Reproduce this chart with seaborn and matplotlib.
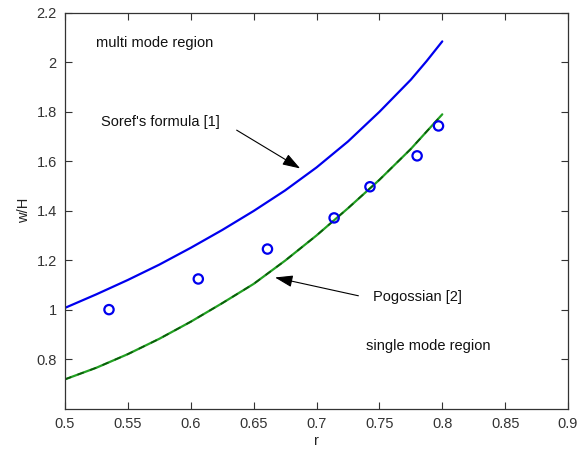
import matplotlib
matplotlib.use("Agg")
import matplotlib.pyplot as plt
import seaborn as sns
import numpy as np
import pandas as pd
from matplotlib.ticker import FuncFormatter

# data
r_curve = [0.5, 0.525, 0.55, 0.575, 0.6, 0.625, 0.65, 0.675, 0.7, 0.725, 0.75, 0.775, 0.7875, 0.8]
soref = [1.007, 1.062, 1.120, 1.182, 1.250, 1.322, 1.399, 1.482, 1.575, 1.680, 1.800, 1.930, 2.005, 2.085]
pogossian = [0.718, 0.765, 0.820, 0.882, 0.951, 1.026, 1.104, 1.198, 1.300, 1.410, 1.525, 1.650, 1.720, 1.790]
r_meas = [0.535, 0.606, 0.661, 0.714, 0.7425, 0.780, 0.797]
w_meas = [1.0, 1.124, 1.245, 1.371, 1.497, 1.622, 1.743]

x_ticks = [0.5, 0.55, 0.6, 0.65, 0.7, 0.75, 0.8, 0.85, 0.9]
y_ticks = [0.8, 1.0, 1.2, 1.4, 1.6, 1.8, 2.0, 2.2]

sns.set_theme(style="ticks")
plt.rcParams['font.family'] = ['Liberation Sans', 'DejaVu Sans']
plt.rcParams['xtick.direction'] = 'in'
plt.rcParams['ytick.direction'] = 'in'

fig = plt.figure(figsize=(5.87, 4.5), dpi=100)
ax = fig.add_axes([0.1107, 0.0922, 0.857, 0.879])

df = pd.DataFrame({"r": r_curve, "soref": soref, "pog": pogossian})
dm = pd.DataFrame({"r": r_meas, "w": w_meas})

sns.lineplot(data=df, x="r", y="soref", ax=ax, color="#0000ee", linewidth=1.6)
sns.lineplot(data=df, x="r", y="pog", ax=ax, color="#22a022", linewidth=1.6)
sns.lineplot(data=df, x="r", y="pog", ax=ax, color="#0a5a0a", linewidth=1.2,
             linestyle=(0, (4, 4)))
sns.scatterplot(data=dm, x="r", y="w", ax=ax, marker="o", s=45,
                facecolor="none", edgecolor="#0000ee", linewidth=1.6, zorder=5)

ax.set_xlim(0.5, 0.9)
ax.set_ylim(0.6, 2.2)
ax.set_xticks(x_ticks)
ax.set_yticks(y_ticks)
fmt = FuncFormatter(lambda v, p: "%g" % round(v, 3))
ax.xaxis.set_major_formatter(fmt)
ax.yaxis.set_major_formatter(fmt)
ax.tick_params(axis="both", which="both", direction="in", top=True, right=True,
               length=5, width=0.8, labelsize=10.5, colors="#333333", pad=6)
for s in ax.spines.values():
    s.set_color("#333333")
    s.set_linewidth(0.9)
ax.set_xlabel("r", fontsize=10.5, color="#222222", labelpad=2)
ax.set_ylabel("w/H", fontsize=10.5, color="#222222", labelpad=4)

tk = dict(fontsize=10.5, color="#111111", va="center", ha="left")
ax.text(0.5247, 2.08, "multi mode region", **tk)
ax.text(0.5286, 1.758, "Soref's formula [1]", **tk)
ax.text(0.745, 1.052, "Pogossian [2]", **tk)
ax.text(0.7394, 0.851, "single mode region", **tk)

arrowprops = dict(arrowstyle="-|>,head_length=0.9,head_width=0.3", color="black",
                  lw=0.8, shrinkA=0, shrinkB=0)
ax.annotate("", xy=(0.687, 1.571), xytext=(0.6365, 1.726), arrowprops=arrowprops)
ax.annotate("", xy=(0.667, 1.13), xytext=(0.7333, 1.056), arrowprops=arrowprops)

fig.savefig("out.png", dpi=100, facecolor="white")
